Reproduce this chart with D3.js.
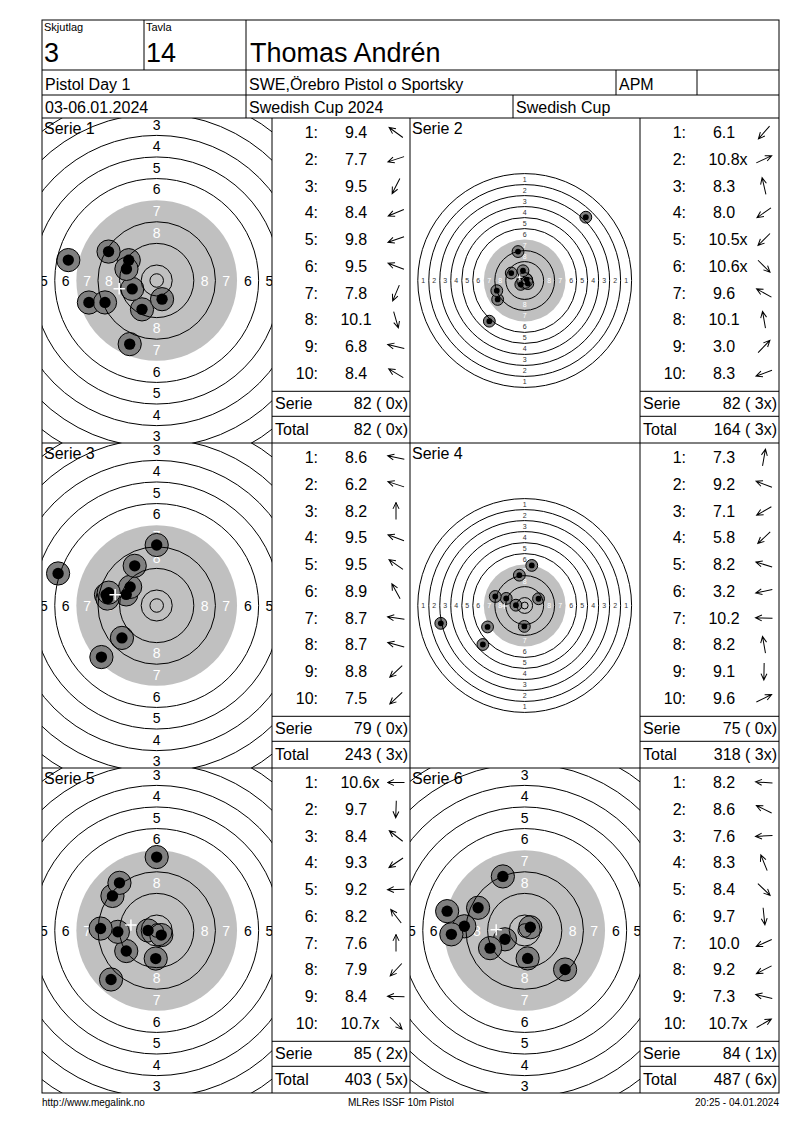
<!DOCTYPE html>
<html>
<head>
<meta charset="utf-8">
<script src="https://cdn.jsdelivr.net/npm/d3@7"></script>
<style>
  body { margin: 0; background: #fff; }
  svg { display: block; }
  text { font-family: "Liberation Sans", Arial, sans-serif; fill: #000; }
</style>
</head>
<body>
<div id="chart"></div>
<script>
const squadLabel = "Skjutlag", squad = "3";
const laneLabel = "Tavla", lane = "14";
const shooter = "Thomas Andrén";
const eventName = "Pistol Day 1";
const club = "SWE,Örebro Pistol o Sportsky";
const shooterClass = "APM";
const dates = "03-06.01.2024";
const competition = "Swedish Cup 2024";
const cupName = "Swedish Cup";
const footerLeft = "http://www.megalink.no";
const footerMid = "MLRes ISSF 10m Pistol";
const footerRight = "20:25 - 04.01.2024";

const serieNames = ["Serie 1", "Serie 2", "Serie 3", "Serie 4", "Serie 5", "Serie 6"];

const serieScores = [
  [9.4, 7.7, 9.5, 8.4, 9.8, 9.5, 7.8, 10.1, 6.8, 8.4],
  [6.1, 10.8, 8.3, 8.0, 10.5, 10.6, 9.6, 10.1, 3.0, 8.3],
  [8.6, 6.2, 8.2, 9.5, 9.5, 8.9, 8.7, 8.7, 8.8, 7.5],
  [7.3, 9.2, 7.1, 5.8, 8.2, 3.2, 10.2, 8.2, 9.1, 9.6],
  [10.6, 9.7, 8.4, 9.3, 9.2, 8.2, 7.6, 7.9, 8.4, 10.7],
  [8.2, 8.6, 7.6, 8.3, 8.4, 9.7, 10.0, 9.2, 7.3, 10.7]
];

// shot numbers marked as inner tens (x)
const serieInnerTens = [[], [2, 5, 6], [], [], [1, 10], [10]];

// direction of each hit seen from the centre, degrees (0 = right, 90 = up)
const shotAngles = [
  [144, 198, 243, 203, 199, 159, 247, 286, 167, 149],
  [229, 25, 103, 215, 225, 315, 151, 100, 46, 200],
  [168, 162, 90, 160, 145, 119, 172, 165, 223, 223],
  [80, 159, 210, 223, 163, 192, 178, 100, 269, 26],
  [180, 268, 142, 214, 182, 128, 90, 227, 178, 315],
  [176, 154, 183, 112, 316, 276, 204, 207, 166, 30]
];

const serieTotals = [82, 82, 79, 75, 85, 84];
const serieX = [0, 3, 0, 0, 2, 1];
const runningTotals = [82, 164, 243, 318, 403, 487];
const runningX = [0, 3, 3, 3, 5, 6];

const ringNumbers = [1, 2, 3, 4, 5, 6, 7, 8, 9, 10];

// ---- layout ----
const W = 800, H = 1130;
const cardL = 42, cardR = 779, cardT = 20, cardB = 1093;
const gridTop = 118, rowH = 325;
const targetW = 230, tableW = [138, 139];
const fontSize = 16;

const svg = d3.select("#chart").append("svg")
  .attr("width", W)
  .attr("height", H);

// ISSF 10m pistol target, mm
const ringRadius = d3.scaleLinear().domain([10, 1]).range([5.75, 77.75]);
const innerTen = 2.5;
const blackRadius = ringRadius(7);
// decimal score -> distance of the hit centre from the target centre (mm)
const scoreToMm = d3.scaleLinear().domain([11, 1]).range([0, 80]);

const drawLine = (g, x1, y1, x2, y2) => g.append("line")
  .attr("x1", x1).attr("y1", y1).attr("x2", x2).attr("y2", y2)
  .attr("stroke", "#000").attr("stroke-width", 1);

const txt = (g, x, y, s, size, anchor) => g.append("text")
  .attr("x", x).attr("y", y)
  .attr("font-size", size)
  .attr("text-anchor", anchor || "start")
  .text(s);

// ---- header ----
const head = svg.append("g");
txt(head, 44, 31, squadLabel, 11);
txt(head, 44, 62, squad, 27);
txt(head, 146, 31, laneLabel, 11);
txt(head, 146, 62, lane, 27);
txt(head, 250, 62, shooter, 27);
txt(head, 45, 90, eventName, fontSize);
txt(head, 249, 90, club, fontSize);
txt(head, 619, 90, shooterClass, fontSize);
txt(head, 45, 113, dates, fontSize);
txt(head, 249, 113, competition, fontSize);
txt(head, 516, 113, cupName, fontSize);

drawLine(head, cardL, 70, cardR, 70);
drawLine(head, cardL, 95, cardR, 95);
drawLine(head, 144, cardT, 144, 70);
drawLine(head, 246, cardT, 246, gridTop);
drawLine(head, 616, 70, 616, 95);
drawLine(head, 697, 70, 697, 95);
drawLine(head, 513, 95, 513, gridTop);

// ---- one target ----
function drawTarget(idx, x0, y0) {
  const scores = serieScores[idx];
  const angles = shotAngles[idx];
  const zoomed = d3.min(scores) >= 6;
  const k = zoomed ? 2.7 : 1.375;            // px per mm
  const cx = x0 + 114.7, cy = y0 + 162.5;

  const sx = d3.scaleLinear().domain([0, 1]).range([cx, cx + k]);
  const sy = d3.scaleLinear().domain([0, 1]).range([cy, cy - k]);

  const clipId = "clip" + idx;
  svg.append("clipPath").attr("id", clipId)
    .append("rect").attr("x", x0).attr("y", y0).attr("width", targetW).attr("height", rowH);

  const g = svg.append("g").attr("clip-path", `url(#${clipId})`);

  g.append("circle").attr("cx", cx).attr("cy", cy).attr("r", blackRadius * k).attr("fill", "#c0c0c0");

  // ring numbers on the four axes (only those whose centre lies in the cell)
  const labelSize = zoomed ? 14 : 7;
  const labels = [];
  ringNumbers.filter(n => n <= 8).forEach(n => {
    const rr = ringRadius(n) - 4;
    [[rr, 0], [-rr, 0], [0, rr], [0, -rr]].forEach(p => labels.push({ n, x: p[0], y: p[1] }));
  });
  const inside = labels.filter(d => {
    const px = sx(d.x), py = sy(d.y);
    return px >= x0 - 1 && px <= x0 + targetW + 1 && py >= y0 - 1 && py <= y0 + rowH + 1;
  });
  g.selectAll("text.ring").data(inside).join("text")
    .attr("class", "ring")
    .attr("x", d => sx(d.x))
    .attr("y", d => sy(d.y) + labelSize * 0.36)
    .attr("text-anchor", "middle")
    .attr("font-size", labelSize)
    .style("fill", d => d.n >= 7 ? "#fff" : (zoomed ? "#000" : "#333"))
    .text(d => d.n);

  const shots = scores.map((s, i) => {
    const r = scoreToMm(s);
    const a = angles[i] * Math.PI / 180;
    return { x: r * Math.cos(a), y: r * Math.sin(a) };
  });

  g.selectAll("circle.hit").data(shots).join("circle")
    .attr("class", "hit")
    .attr("cx", d => sx(d.x)).attr("cy", d => sy(d.y))
    .attr("r", 4.3 * k)
    .attr("fill", "#808080").attr("stroke", "#000").attr("stroke-width", 1);

  const rings = ringNumbers.filter(n => n !== 7).map(n => ringRadius(n)).concat([innerTen]);
  g.selectAll("circle.ringline").data(rings).join("circle")
    .attr("class", "ringline")
    .attr("cx", cx).attr("cy", cy).attr("r", d => d * k)
    .attr("fill", "none").attr("stroke", "#000").attr("stroke-width", 1);

  g.selectAll("circle.dot").data(shots).join("circle")
    .attr("class", "dot")
    .attr("cx", d => sx(d.x)).attr("cy", d => sy(d.y))
    .attr("r", 2.1 * k)
    .attr("fill", "#000");

  // mean point of impact
  const mx = sx(d3.mean(shots, d => d.x)), my = sy(d3.mean(shots, d => d.y));
  const arm = 2.1 * k;
  g.append("path")
    .attr("d", `M${mx - arm},${my}H${mx + arm}M${mx},${my - arm}V${my + arm}`)
    .attr("stroke", "#fff").attr("stroke-width", zoomed ? 1.5 : 1);

  txt(g, x0 + 2, y0 + 16, serieNames[idx], fontSize);
}

// ---- one score table ----
function drawTable(idx, x0, y0, w) {
  const g = svg.append("g");
  const scores = serieScores[idx];
  const tens = serieInnerTens[idx];
  const rowY = d3.scaleLinear().domain([1, 10]).range([y0 + 14.5, y0 + 14.5 + 9 * 26.75]);

  scores.forEach((s, i) => {
    const n = i + 1;
    const y = rowY(n);
    txt(g, x0 + 46, y + 5.7, n + ":", fontSize, "end");
    const t = txt(g, x0 + 84, y + 5.7, s.toFixed(1), fontSize, "middle");
    if (tens.includes(n)) {
      const len = t.node().getComputedTextLength();
      txt(g, x0 + 84 + len / 2, y + 5.7, "x", fontSize);
    }
    const a = g.append("g")
      .attr("transform", `translate(${x0 + 124},${y}) rotate(${-shotAngles[idx][i]})`);
    const hl = 7, ha = 25 * Math.PI / 180;
    a.append("path")
      .attr("d", `M-8.5,0H8.5M${8.5 - hl * Math.cos(ha)},${-hl * Math.sin(ha)}L8.5,0L${8.5 - hl * Math.cos(ha)},${hl * Math.sin(ha)}`)
      .attr("fill", "none").attr("stroke", "#000").attr("stroke-width", 1);
  });

  drawLine(g, x0, y0 + 273.3, x0 + w, y0 + 273.3);
  drawLine(g, x0, y0 + 298.3, x0 + w, y0 + 298.3);
  txt(g, x0 + 3, y0 + 285.5 + 5.7, "Serie", fontSize);
  txt(g, x0 + w - 2, y0 + 285.5 + 5.7, `${serieTotals[idx]} ( ${serieX[idx]}x)`, fontSize, "end");
  txt(g, x0 + 3, y0 + 311 + 5.7, "Total", fontSize);
  txt(g, x0 + w - 2, y0 + 311 + 5.7, `${runningTotals[idx]} ( ${runningX[idx]}x)`, fontSize, "end");
}

serieNames.forEach((name, i) => {
  const row = Math.floor(i / 2), col = i % 2;
  const y0 = gridTop + row * rowH;
  const tx = col === 0 ? cardL : 410;
  const tbx = col === 0 ? 272 : 640;
  drawTarget(i, tx, y0);
  drawTable(i, tbx, y0, tableW[col]);
});

// ---- grid ----
const grid = svg.append("g");
[272, 410, 640].forEach(x => drawLine(grid, x, gridTop, x, cardB));
[443, 768].forEach(y => drawLine(grid, cardL, y, cardR, y));
drawLine(grid, cardL, gridTop, cardR, gridTop);
svg.append("rect")
  .attr("x", cardL).attr("y", cardT)
  .attr("width", cardR - cardL).attr("height", cardB - cardT)
  .attr("fill", "none").attr("stroke", "#000").attr("stroke-width", 1);

// ---- footer ----
txt(svg, cardL, 1106, footerLeft, 10);
txt(svg, 401, 1106, footerMid, 10, "middle");
txt(svg, cardR, 1106, footerRight, 10, "end");
</script>
</body>
</html>
